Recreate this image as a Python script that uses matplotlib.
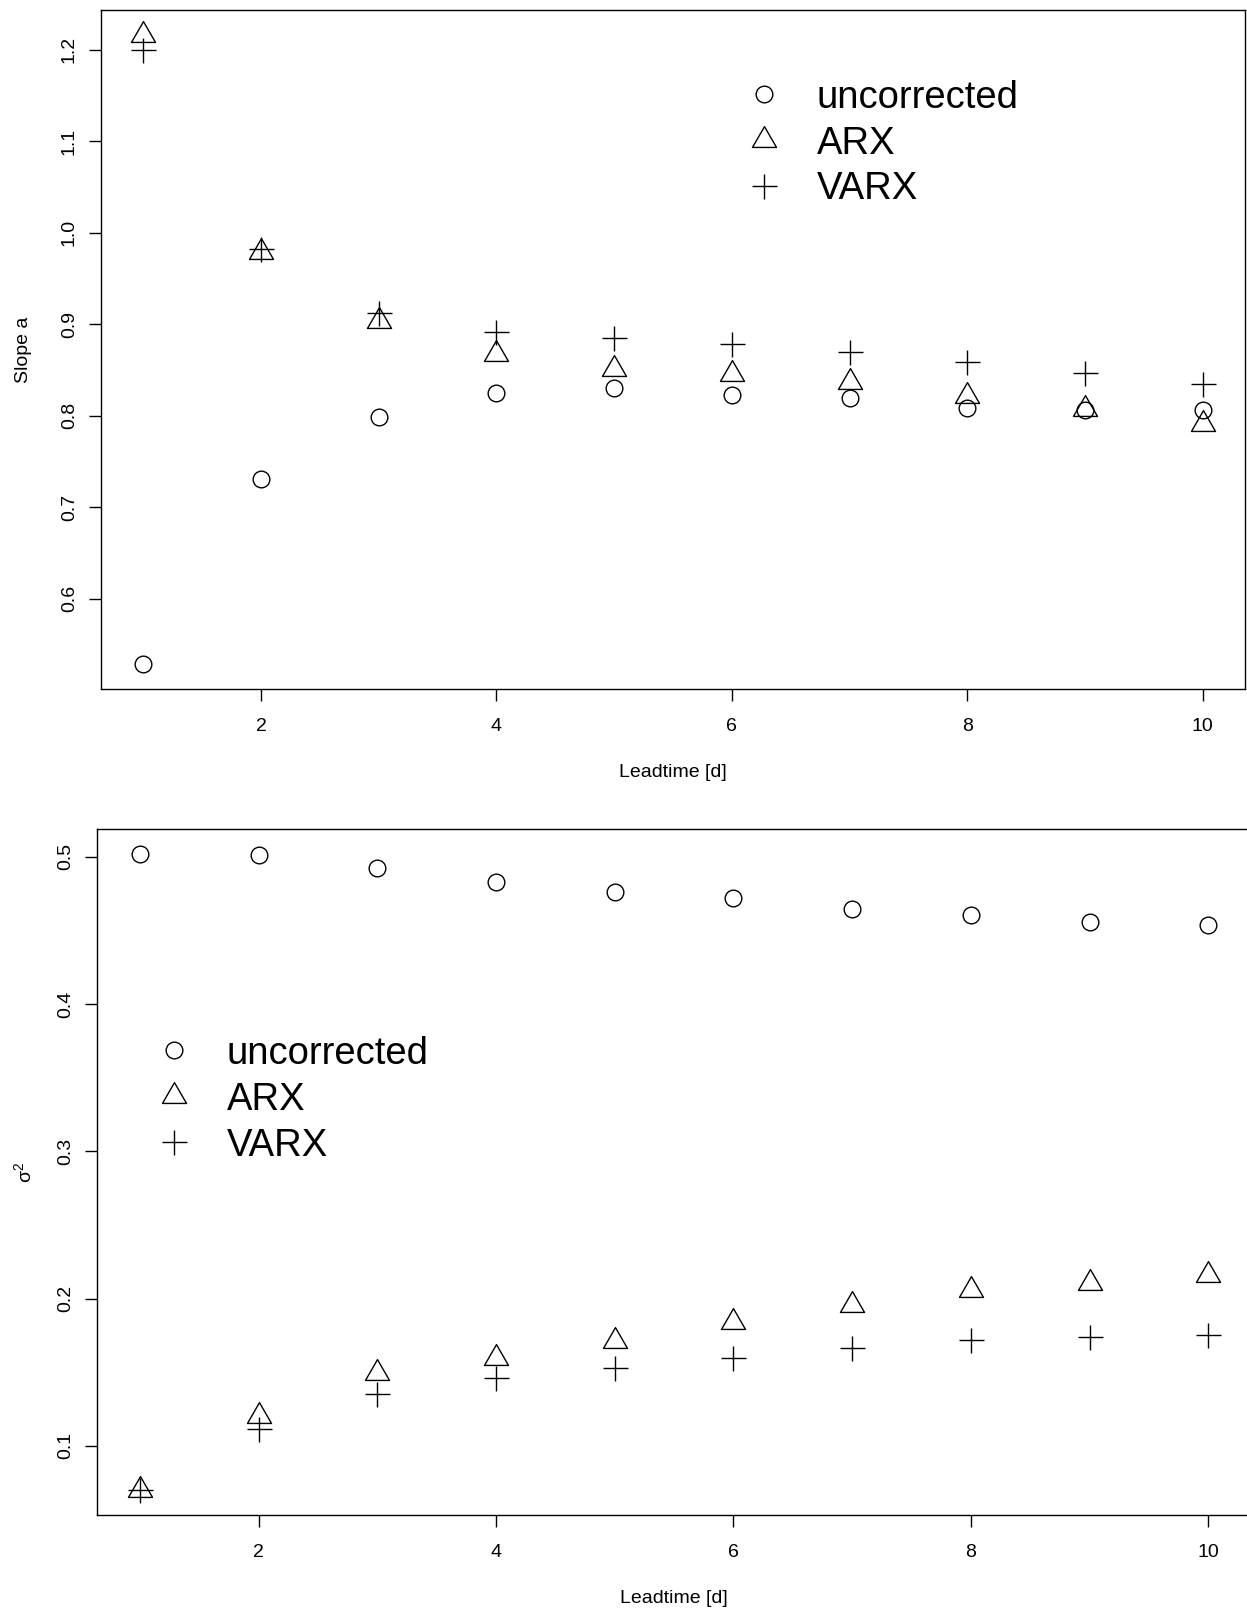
import matplotlib

matplotlib.use("Agg")
import matplotlib.pyplot as plt
from matplotlib.path import Path

plt.rcParams["font.family"] = ["Liberation Sans", "DejaVu Sans"]
plt.rcParams["mathtext.fontset"] = "custom"
plt.rcParams["mathtext.rm"] = "Liberation Sans"
plt.rcParams["mathtext.it"] = "Liberation Sans"

# lead times (days)
leadtime = [1, 2, 3, 4, 5, 6, 7, 8, 9, 10]

# slope a of the regression, per method
slope_uncorrected = [0.529, 0.731, 0.799, 0.825, 0.830, 0.823, 0.819, 0.809, 0.806, 0.806]
slope_arx = [1.216, 0.979, 0.904, 0.868, 0.851, 0.846, 0.837, 0.822, 0.808, 0.791]
slope_varx = [1.200, 0.982, 0.912, 0.892, 0.885, 0.879, 0.870, 0.859, 0.847, 0.835]

# residual variance sigma^2, per method
sigma2_uncorrected = [0.5018, 0.5014, 0.4923, 0.4832, 0.4764, 0.4717, 0.4645, 0.4604, 0.4557, 0.4534]
sigma2_arx = [0.0703, 0.1204, 0.1494, 0.1593, 0.1709, 0.1840, 0.1957, 0.2057, 0.2105, 0.2161]
sigma2_varx = [0.0703, 0.1115, 0.1353, 0.1459, 0.1527, 0.1597, 0.1667, 0.1717, 0.1742, 0.1751]

labels = ["uncorrected", "ARX", "VARX"]

# R-style triangle (pch=2): centred on its centroid, not its bounding box
TRIANGLE = Path([(0.0, 1.0), (-0.866, -0.5), (0.866, -0.5), (0.0, 1.0)],
                [Path.MOVETO, Path.LINETO, Path.LINETO, Path.CLOSEPOLY])
STYLES = [
    dict(marker="o", markersize=12),
    dict(marker=TRIANGLE, markersize=20),
    dict(marker="+", markersize=18),
]

FS = 14


def r_limits(values):
    """R's default axis extension: data range padded by 4% on each side."""
    lo, hi = min(values), max(values)
    pad = 0.04 * (hi - lo)
    return lo - pad, hi + pad


def panel(ax, series, ylabel, yticks, ylabel_x, xlabel_y, xpad, legend_at):
    lines = []
    for vals, label, st in zip(series, labels, STYLES):
        (ln,) = ax.plot(leadtime, vals, linestyle="none", color="black",
                        markerfacecolor="none", markeredgecolor="black",
                        markeredgewidth=1.0, label=label, **st)
        lines.append(ln)
    ax.set_xlim(*r_limits(leadtime))
    ax.set_ylim(*r_limits([v for s in series for v in s]))
    ax.set_xticks([2, 4, 6, 8, 10])
    ax.set_yticks(yticks)
    ax.set_yticklabels([f"{t:.1f}" for t in yticks])
    ax.tick_params(direction="out", length=8.6, width=1.0, labelsize=FS)
    ax.tick_params(axis="x", pad=xpad)
    ax.tick_params(axis="y", pad=8, labelrotation=90)
    for lab in ax.get_yticklabels():
        lab.set_verticalalignment("center")
    for sp in ax.spines.values():
        sp.set_linewidth(1.0)
    ax.set_xlabel("Leadtime [d]", fontsize=FS)
    ax.xaxis.set_label_coords(0.5, xlabel_y)
    ax.set_ylabel(ylabel, fontsize=FS)
    ax.yaxis.set_label_coords(ylabel_x, 0.5)
    ax.legend(handles=lines, loc="upper left", bbox_to_anchor=legend_at,
              bbox_transform=ax.figure.transFigure, frameon=False,
              fontsize=27.5, numpoints=1, handlelength=1.0, handletextpad=0.874,
              labelspacing=0.26, borderpad=0, borderaxespad=0)


fig = plt.figure(figsize=(12.47, 16.12), dpi=100)
ax1 = fig.add_axes([0.0810, 0.5726, 0.9174, 0.4212])
ax2 = fig.add_axes([0.0780, 0.0602, 0.9252, 0.4257])

panel(ax1, [slope_uncorrected, slope_arx, slope_varx], "Slope a",
      [0.6, 0.7, 0.8, 0.9, 1.0, 1.1, 1.2],
      ylabel_x=-69.5 / 1144, xlabel_y=-75.5 / 679, xpad=12.0,
      legend_at=(0.5975, 0.9506))
panel(ax2, [sigma2_uncorrected, sigma2_arx, sigma2_varx], r"$\sigma^2$",
      [0.1, 0.2, 0.3, 0.4, 0.5],
      ylabel_x=-62.0 / 1153.7, xlabel_y=-75.5 / 686.3, xpad=12.0,
      legend_at=(0.1246, 0.3575))

fig.savefig("out.png", dpi=100)
